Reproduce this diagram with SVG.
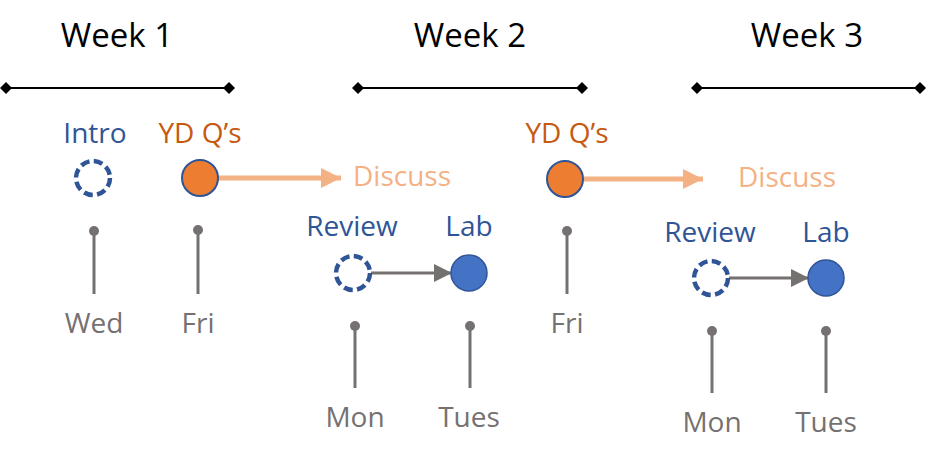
<svg xmlns="http://www.w3.org/2000/svg" width="927" height="462" viewBox="0 0 927 462">
<style>
text{font-family:"Open Sans","Noto Sans","Liberation Sans",sans-serif;text-anchor:middle}
.wk{font-size:33px;fill:#000}
.blue{font-size:28px;fill:#2f5597}
.or{font-size:28px;fill:#c55a11}
.disc{font-size:28px;fill:#f4b183;text-anchor:start}
.day{font-size:28px;fill:#767171}
.tl{stroke:#000;stroke-width:2}
.dash{fill:#fff;stroke:#2f5597;stroke-width:4.5;stroke-dasharray:9 4.4}
.ofill{fill:#ed7d31;stroke:#2f5597;stroke-width:2}
.bfill{fill:#4472c4;stroke:#2f5597;stroke-width:1.5}
.pin{stroke:#767171;stroke-width:3}
.pdot{fill:#767171}
.oarr{stroke:#f4b183;stroke-width:5}
.garr{stroke:#767171;stroke-width:3}
</style>
<defs>
<marker id="dia" viewBox="-6 -6 12 12" markerWidth="12" markerHeight="12" markerUnits="userSpaceOnUse" refX="0" refY="0" orient="auto"><path d="M-6 0L0-6L6 0L0 6Z" fill="#000"/></marker>
<marker id="oh" viewBox="0 0 10 10" markerWidth="4" markerHeight="4" refX="10" refY="5" orient="auto"><path d="M0 0L10 5L0 10Z" fill="#f4b183"/></marker>
<marker id="gh" viewBox="0 0 10 10" markerWidth="6.5" markerHeight="6" refX="10" refY="5" orient="auto"><path d="M0 0L10 5L0 10Z" fill="#767171"/></marker>
</defs>
<g id="timelines">
<line class="tl" x1="6" y1="88" x2="229" y2="88" marker-start="url(#dia)" marker-end="url(#dia)"/>
<line class="tl" x1="358" y1="88" x2="582" y2="88" marker-start="url(#dia)" marker-end="url(#dia)"/>
<line class="tl" x1="697" y1="88" x2="920" y2="88" marker-start="url(#dia)" marker-end="url(#dia)"/>
</g>
<g id="week-labels">
<text class="wk" x="117" y="47">Week 1</text>
<text class="wk" x="470" y="47">Week 2</text>
<text class="wk" x="807" y="47">Week 3</text>
</g>
<g id="connectors">
<line class="oarr" x1="218" y1="178" x2="341" y2="178" marker-end="url(#oh)"/>
<line class="oarr" x1="583" y1="179" x2="703" y2="179" marker-end="url(#oh)"/>
<line class="garr" x1="371" y1="273" x2="452" y2="273" marker-end="url(#gh)"/>
<line class="garr" x1="729" y1="278" x2="809" y2="278" marker-end="url(#gh)"/>
</g>
<g id="intro">
<text class="blue" x="95" y="143">Intro</text>
<circle class="dash" cx="93" cy="178" r="17"/>
</g>
<g id="ydq1">
<text class="or" x="200" y="143">YD Q’s</text>
<circle class="ofill" cx="200" cy="178" r="18"/>
</g>
<g id="discuss1"><text class="disc" x="353" y="186">Discuss</text></g>
<g id="review1">
<text class="blue" x="352" y="236">Review</text>
<circle class="dash" cx="353" cy="273" r="17"/>
</g>
<g id="lab1">
<text class="blue" x="469" y="236">Lab</text>
<circle class="bfill" cx="469" cy="273" r="18"/>
</g>
<g id="ydq2">
<text class="or" x="567" y="143">YD Q’s</text>
<circle class="ofill" cx="565" cy="179" r="18"/>
</g>
<g id="discuss2"><text class="disc" x="738" y="187">Discuss</text></g>
<g id="review2">
<text class="blue" x="710" y="242">Review</text>
<circle class="dash" cx="711" cy="278" r="17"/>
</g>
<g id="lab2">
<text class="blue" x="826" y="242">Lab</text>
<circle class="bfill" cx="826" cy="278" r="18"/>
</g>
<g id="pin-wed">
<line class="pin" x1="94" y1="231" x2="94" y2="294"/><circle class="pdot" cx="94" cy="231" r="5"/>
<text class="day" x="94" y="333">Wed</text>
</g>
<g id="pin-fri1">
<line class="pin" x1="198" y1="230" x2="198" y2="294"/><circle class="pdot" cx="198" cy="230" r="5"/>
<text class="day" x="198" y="333">Fri</text>
</g>
<g id="pin-mon1">
<line class="pin" x1="355" y1="326" x2="355" y2="388"/><circle class="pdot" cx="355" cy="326" r="5"/>
<text class="day" x="355" y="427">Mon</text>
</g>
<g id="pin-tues1">
<line class="pin" x1="470" y1="326" x2="470" y2="388"/><circle class="pdot" cx="470" cy="326" r="5"/>
<text class="day" x="469" y="427">Tues</text>
</g>
<g id="pin-fri2">
<line class="pin" x1="567" y1="231" x2="567" y2="294"/><circle class="pdot" cx="567" cy="231" r="5"/>
<text class="day" x="567" y="333">Fri</text>
</g>
<g id="pin-mon2">
<line class="pin" x1="712" y1="331" x2="712" y2="393"/><circle class="pdot" cx="712" cy="331" r="5"/>
<text class="day" x="712" y="432">Mon</text>
</g>
<g id="pin-tues2">
<line class="pin" x1="826" y1="331" x2="826" y2="393"/><circle class="pdot" cx="826" cy="331" r="5"/>
<text class="day" x="826" y="432">Tues</text>
</g>
</svg>
